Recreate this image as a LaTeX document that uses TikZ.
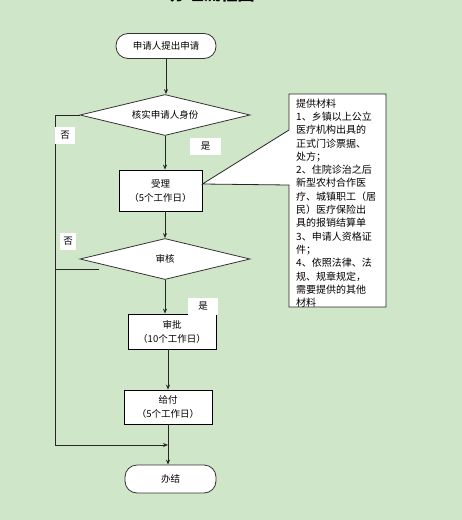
\documentclass[tikz,border=0pt]{standalone}
\usepackage{fontspec}
\setmainfont{Noto Sans CJK SC}
\usetikzlibrary{shapes.geometric,arrows.meta}

\definecolor{bgGreen}{RGB}{207,230,201}

\tikzset{
  flowline/.style={line width=0.8pt, draw=black!85},
  flowarrow/.style={flowline, -{Stealth[length=5pt,width=4pt]}},
  terminal/.style={
    draw=black!80, line width=0.8pt, fill=white,
    rounded corners=12pt, inner sep=0pt,
    minimum width=100pt, minimum height=25pt,
    font=\fontsize{9.5}{11}\selectfont
  },
  decision/.style={
    diamond, aspect=4, draw=black!80, line width=0.8pt, fill=white,
    inner sep=0pt, minimum width=170pt, minimum height=41pt,
    font=\fontsize{9.5}{11}\selectfont
  },
  process/.style={
    draw=black, line width=0.8pt, fill=white,
    inner sep=0pt, align=center,
    font=\fontsize{9.5}{14}\selectfont
  },
  answer/.style={
    fill=white, inner sep=0pt, minimum height=17pt,
    font=\fontsize{9.5}{11}\selectfont
  }
}

\begin{document}
\begin{tikzpicture}[x=1pt,y=-1pt]
\clip (0,0) rectangle (462,520);
\fill[bgGreen] (0,0) rectangle (462,520);

% title, cut off at the top
\node[font=\fontsize{17}{20}\selectfont\bfseries] (title) at (212,-6) {办理流程图};

% main flow
\node[terminal] (apply) at (166,46) {申请人提出申请};
\node[decision] (verify) at (165,115) {核实申请人身份};
\node[process, minimum width=83pt, minimum height=41pt] (accept) at (160.5,190.5) {受理\\（5个工作日）};
\node[decision] (review) at (165,259) {审核};
\node[process, minimum width=88pt, minimum height=35pt] (approve) at (172,331.5) {审批\\（10个工作日）};
\node[process, minimum width=88pt, minimum height=34pt] (pay) at (168,407) {给付\\（5个工作日）};
\node[terminal, minimum width=91pt, minimum height=28pt] (finish) at (170.5,479) {办结};

\draw[flowarrow] (apply) -- (apply |- verify.north);
\draw[flowarrow] (verify.south) -- (verify.south |- accept.north);
\draw[flowarrow] (accept.south -| verify.south) -- (review.north);
\draw[flowarrow] (review.south) -- (review.south |- approve.north);
\draw[flowarrow] (approve.south -| pay.south) -- (pay.north);
\draw[flowarrow] (pay.south) -- (pay.south |- finish.north);

% the "no" branch on the left
\coordinate (loopBottom) at (55,445);
\coordinate (noTwo) at (99,269);
\draw[flowarrow] (verify.west) -- (verify.west -| loopBottom) -- (loopBottom) -- (loopBottom -| pay.south);
\draw[flowline] (noTwo) -- (noTwo -| loopBottom);

\node[answer, minimum width=20pt] (noOne) at (65,135) {否};
\node[answer, minimum width=31pt] (yesOne) at (205.5,146) {是};
\node[answer, minimum width=16pt] (noThree) at (68,241) {否};
\node[answer, minimum width=30pt] (yesTwo) at (203,306) {是};

% callout with the required materials
\coordinate (wedgeTip) at ([yshift=6.5pt]accept.east);
\draw[flowline, fill=white] (289,94) -- (386,94) -- (386,307) -- (289,307)
  -- (289,185) -- (wedgeTip) -- (289,130) -- cycle;
\begin{scope}
\clip (289.5,94.5) rectangle (385.5,306.5);
\node[anchor=north west, inner sep=0pt, align=left,
      font=\fontsize{10}{13.3}\selectfont] (material) at (296,98.5) {%
提供材料\\
1、乡镇以上公立\\
医疗机构出具的\\
正式门诊票据、\\
处方；\\
2、住院诊治之后\\
新型农村合作医\\
疗、城镇职工（居\\
民）医疗保险出\\
具的报销结算单\\
3、申请人资格证\\
件；\\
4、依照法律、法\\
规、规章规定，\\
需要提供的其他\\
材料};
\end{scope}
\end{tikzpicture}
\end{document}
